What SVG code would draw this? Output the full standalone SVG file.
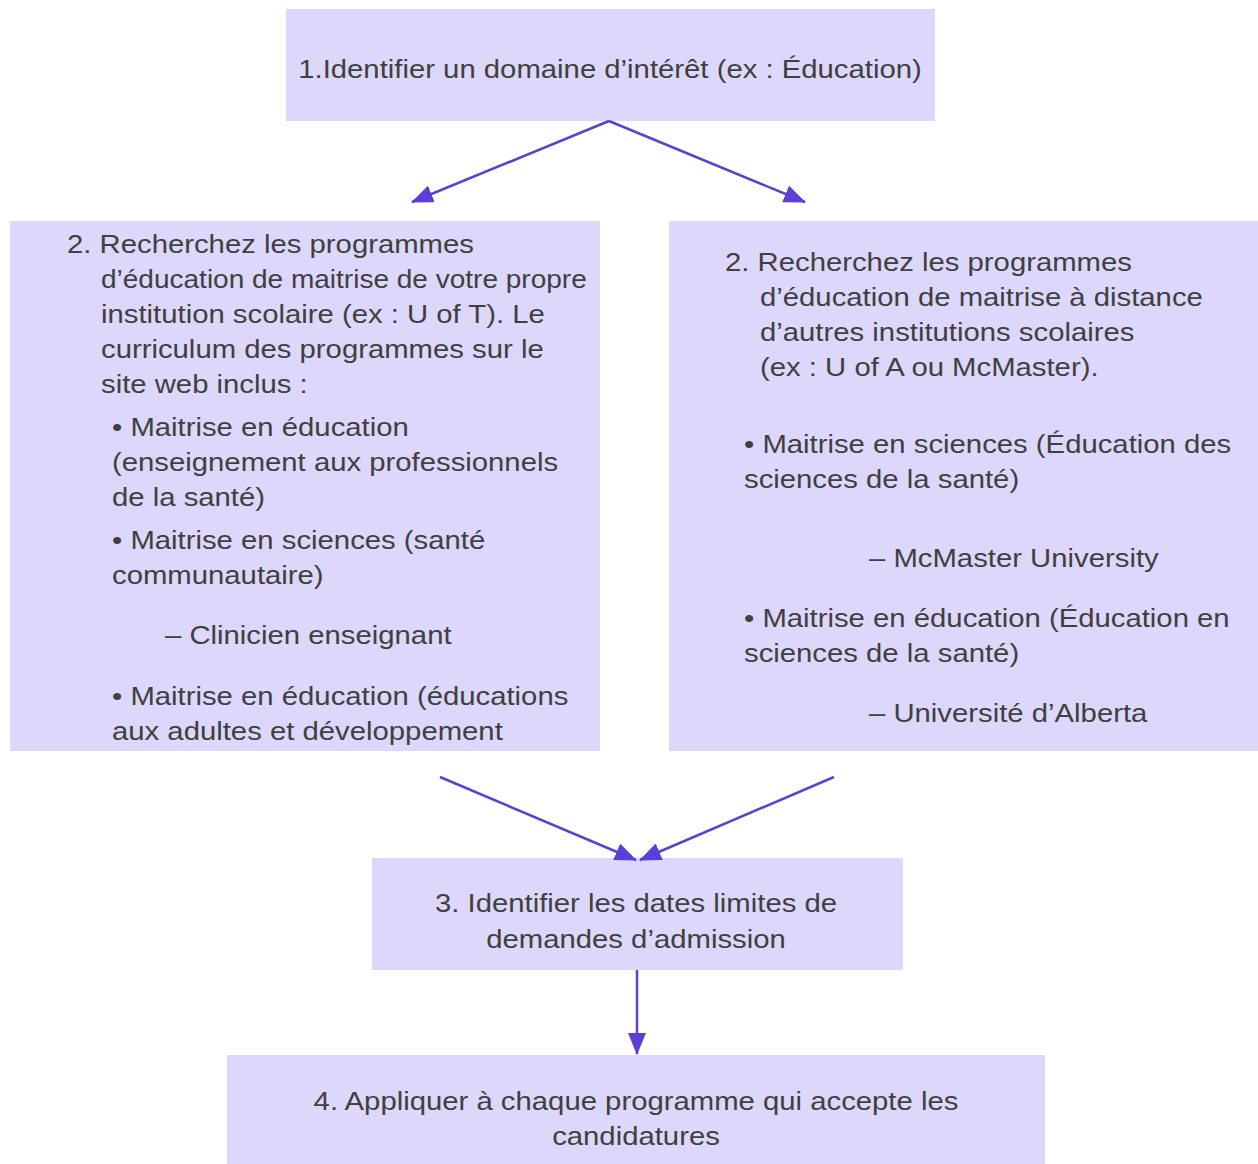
<svg xmlns="http://www.w3.org/2000/svg" width="1258" height="1164" viewBox="0 0 1258 1164">
  <style>
    .box { fill: #ddd7fb; }
    .t { font-family: "Liberation Sans", Arial, sans-serif; font-size: 26px; fill: #404040; }
    .c { text-anchor: middle; }
    .link { stroke: #5b3fd6; stroke-width: 2.5; fill: none; marker-end: url(#head); }
  </style>
  <defs>
    <marker id="head" markerUnits="userSpaceOnUse" markerWidth="22" markerHeight="18" refX="21" refY="9" orient="auto">
      <path d="M0,0 L22,9 L0,18 Z" fill="#5b3fd6"/>
    </marker>
  </defs>
  <rect width="1258" height="1164" fill="#ffffff"/>

  <!-- text runs are set in a horizontally widened frame: x values are divided by 1.127 -->
  <g id="step1">
    <rect class="box" x="286" y="9" width="649" height="112"/>
    <g transform="scale(1.127 1)">
      <text class="t c" x="541.26" y="78">1.Identifier un domaine d’intérêt (ex : Éducation)</text>
    </g>
  </g>

  <g id="step2-local">
    <rect class="box" x="10" y="221" width="590" height="530"/>
    <g transform="scale(1.127 1)">
      <text class="t" x="59.45" y="253">2. Recherchez les programmes</text>
      <text class="t" x="89.62" y="288" textLength="431" lengthAdjust="spacingAndGlyphs">d’éducation de maitrise de votre propre</text>
      <text class="t" x="89.62" y="323">institution scolaire (ex : U of T). Le</text>
      <text class="t" x="89.62" y="358">curriculum des programmes sur le</text>
      <text class="t" x="89.62" y="393">site web inclus :</text>
      <text class="t" x="99.38" y="436">• Maitrise en éducation</text>
      <text class="t" x="99.38" y="471">(enseignement aux professionnels</text>
      <text class="t" x="99.38" y="506">de la santé)</text>
      <text class="t" x="99.38" y="549">• Maitrise en sciences (santé</text>
      <text class="t" x="99.38" y="584">communautaire)</text>
      <text class="t" x="146.41" y="644">– Clinicien enseignant</text>
      <text class="t" x="99.38" y="705">• Maitrise en éducation (éducations</text>
      <text class="t" x="99.38" y="740">aux adultes et développement</text>
    </g>
  </g>

  <g id="step2-distance">
    <rect class="box" x="669" y="221" width="589" height="530"/>
    <g transform="scale(1.127 1)">
      <text class="t" x="643.30" y="271">2. Recherchez les programmes</text>
      <text class="t" x="674.36" y="306">d’éducation de maitrise à distance</text>
      <text class="t" x="674.36" y="341">d’autres institutions scolaires</text>
      <text class="t" x="674.36" y="376">(ex : U of A ou McMaster).</text>
      <text class="t" x="660.16" y="453">• Maitrise en sciences (Éducation des</text>
      <text class="t" x="660.16" y="488">sciences de la santé)</text>
      <text class="t" x="771.07" y="567">– McMaster University</text>
      <text class="t" x="660.16" y="627">• Maitrise en éducation (Éducation en</text>
      <text class="t" x="660.16" y="662">sciences de la santé)</text>
      <text class="t" x="771.07" y="722">– Université d’Alberta</text>
    </g>
  </g>

  <g id="step3">
    <rect class="box" x="372" y="858" width="531" height="112"/>
    <g transform="scale(1.127 1)">
      <text class="t c" x="564.33" y="912">3. Identifier les dates limites de</text>
      <text class="t c" x="564.33" y="948">demandes d’admission</text>
    </g>
  </g>

  <g id="step4">
    <rect class="box" x="227" y="1055" width="818" height="109"/>
    <g transform="scale(1.127 1)">
      <text class="t c" x="564.33" y="1110">4. Appliquer à chaque programme qui accepte les</text>
      <text class="t c" x="564.33" y="1145">candidatures</text>
    </g>
  </g>

  <g id="connectors">
    <line class="link" x1="609" y1="121" x2="412" y2="202"/>
    <line class="link" x1="609" y1="121" x2="805" y2="202"/>
    <line class="link" x1="440" y1="777" x2="636" y2="860"/>
    <line class="link" x1="834" y1="777" x2="640" y2="860"/>
    <line class="link" x1="637" y1="970" x2="637" y2="1054"/>
  </g>
</svg>
